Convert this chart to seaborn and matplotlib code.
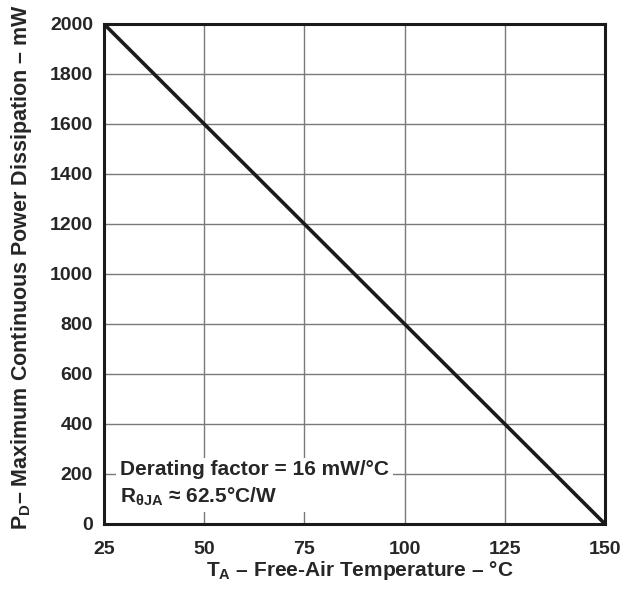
import matplotlib
matplotlib.use('Agg')
import matplotlib.pyplot as plt
import seaborn as sns
import pandas as pd

# data
temp_c = [25, 150]
power_mw = [2000, 0]
x_ticks = [25, 50, 75, 100, 125, 150]
y_ticks = [0, 200, 400, 600, 800, 1000, 1200, 1400, 1600, 1800, 2000]

df = pd.DataFrame({'T': temp_c, 'P': power_mw})

sns.set_style('white')
plt.rcParams['font.family'] = ['Liberation Sans', 'DejaVu Sans']
plt.rcParams['font.weight'] = 'bold'
plt.rcParams['mathtext.fontset'] = 'custom'
plt.rcParams['mathtext.rm'] = 'Liberation Sans:bold'
plt.rcParams['mathtext.bf'] = 'Liberation Sans:bold'
plt.rcParams['mathtext.it'] = 'Liberation Sans:bold'

fig = plt.figure(figsize=(6.24, 5.90), dpi=100)
ax = fig.add_axes([104 / 624, 1 - 524 / 590, 501 / 624, 500 / 590])

sns.lineplot(data=df, x='T', y='P', color='#1a1a1a', linewidth=2.6, ax=ax)

ax.set_xlim(25, 150)
ax.set_ylim(0, 2000)
ax.set_xticks(x_ticks)
ax.set_yticks(y_ticks)
ax.grid(True, color='#7a7a7a', linewidth=1.0)
ax.set_axisbelow(True)
for s in ax.spines.values():
    s.set_color('#1a1a1a')
    s.set_linewidth(2.2)
ax.tick_params(axis='both', direction='out', length=3, width=1, color='#555555',
               labelsize=14)
ax.tick_params(axis='x', pad=9)
ax.tick_params(axis='y', pad=5)
for lbl in ax.get_xticklabels() + ax.get_yticklabels():
    lbl.set_fontweight('bold')

ax.set_xlabel(r'T$_\mathregular{A}$ – Free-Air Temperature – °C', fontsize=15,
              fontweight='bold', va='center')
ax.xaxis.set_label_coords(0.51, -0.092)
ax.set_ylabel(r'P$_\mathregular{D}$– Maximum Continuous Power Dissipation – mW',
              fontsize=15.5, fontweight='bold')
ax.yaxis.set_label_coords(-0.14, 0.515)

ax.text(29, 160, 'Derating factor = 16 mW/°C\n' + r'R$_{\theta\mathregular{JA}}$ ≈ 62.5°C/W',
        fontsize=15, fontweight='bold', va='center', ha='left', linespacing=1.35,
        bbox=dict(facecolor='white', edgecolor='none', pad=3))

fig.savefig('out.png', dpi=100)
